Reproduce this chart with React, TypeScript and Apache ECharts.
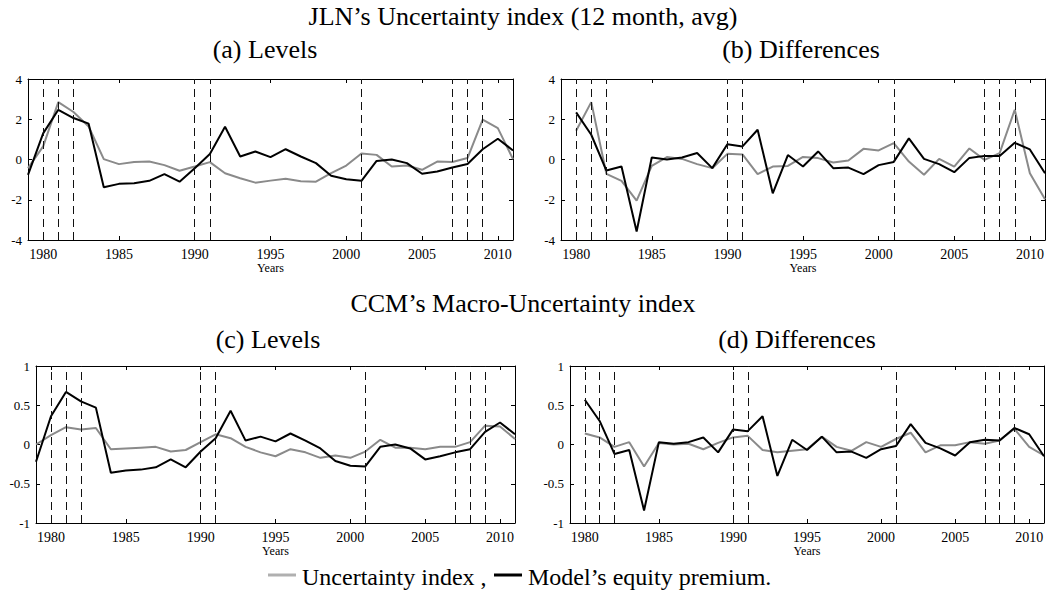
import React, { useEffect, useRef } from "react";
import * as echarts from "echarts";

const yearsLevels = [1979,1980,1981,1982,1983,1984,1985,1986,1987,1988,1989,1990,1991,1992,1993,1994,1995,1996,1997,1998,1999,2000,2001,2002,2003,2004,2005,2006,2007,2008,2009,2010,2011];
const yearsDiff = yearsLevels.slice(1);
const xTickYears = [1980, 1985, 1990, 1995, 2000, 2005, 2010];
const recessionYears = [1980, 1981, 1982, 1990, 1991, 2001, 2007, 2008, 2009];

// (a) JLN levels
const jlnLevelModel = [-0.76,1.3,2.47,2.06,1.78,-1.38,-1.21,-1.18,-1.06,-0.73,-1.1,-0.43,0.27,1.63,0.15,0.4,0.12,0.51,0.15,-0.18,-0.81,-0.98,-1.06,-0.07,0,-0.18,-0.71,-0.6,-0.4,-0.22,0.51,1.03,0.45];
const jlnLevelIndex = [-0.43,0.65,2.85,2.36,1.64,0.02,-0.23,-0.12,-0.1,-0.28,-0.56,-0.35,-0.13,-0.68,-0.93,-1.15,-1.05,-0.96,-1.08,-1.1,-0.68,-0.3,0.3,0.23,-0.35,-0.3,-0.51,-0.1,-0.12,0.07,1.98,1.56,0.02];
// (b) JLN differences
const jlnDiffModel = [2.34,1.23,-0.55,-0.35,-3.58,0.1,0,0.1,0.32,-0.43,0.76,0.65,1.48,-1.68,0.22,-0.35,0.4,-0.43,-0.4,-0.73,-0.28,-0.12,1.05,0.03,-0.23,-0.63,0.08,0.18,0.17,0.83,0.5,-0.68];
const jlnDiffIndex = [1.43,2.85,-0.71,-1.06,-2.04,-0.32,0.12,0.03,-0.23,-0.43,0.28,0.25,-0.73,-0.35,-0.32,0.13,0.07,-0.15,-0.05,0.53,0.45,0.81,-0.1,-0.76,0.03,-0.35,0.55,-0.02,0.32,2.47,-0.68,-1.98];
// (c) CCM levels
const ccmLevelModel = [-0.22,0.36,0.67,0.55,0.47,-0.36,-0.33,-0.32,-0.29,-0.19,-0.29,-0.09,0.08,0.43,0.05,0.1,0.04,0.14,0.05,-0.05,-0.21,-0.27,-0.28,-0.03,0,-0.05,-0.19,-0.15,-0.1,-0.06,0.16,0.28,0.13];
const ccmLevelIndex = [0,0.12,0.22,0.19,0.21,-0.06,-0.05,-0.04,-0.03,-0.09,-0.07,0.03,0.13,0.08,-0.03,-0.1,-0.15,-0.06,-0.1,-0.17,-0.14,-0.17,-0.09,0.06,-0.04,-0.04,-0.06,-0.03,-0.03,0.03,0.24,0.23,0.07];
// (d) CCM differences
const ccmDiffModel = [0.57,0.3,-0.12,-0.07,-0.84,0.03,0.01,0.03,0.09,-0.1,0.19,0.17,0.36,-0.4,0.06,-0.07,0.1,-0.1,-0.09,-0.17,-0.06,-0.02,0.26,0.02,-0.05,-0.14,0.03,0.06,0.05,0.21,0.13,-0.15];
const ccmDiffIndex = [0.14,0.09,-0.03,0.03,-0.28,0.02,0,0.01,-0.06,0.02,0.09,0.11,-0.07,-0.1,-0.08,-0.06,0.1,-0.03,-0.08,0.03,-0.03,0.07,0.15,-0.1,-0.01,-0.01,0.03,0.01,0.05,0.2,-0.03,-0.14];

const mainTitles = ["JLN’s Uncertainty index (12 month, avg)", "CCM’s Macro-Uncertainty index"];
const panelTitles = ["(a) Levels", "(b) Differences", "(c) Levels", "(d) Differences"];
const legendNames = ["Uncertainty index ,", "Model’s equity premium."];

const FONT = '"Liberation Serif", "DejaVu Serif", serif';
const GRAY = "#8a8a8a";

const zip = (xs: number[], ys: number[]) => xs.map((x, i) => [x, ys[i]]);

export default function App() {
  const ref = useRef<HTMLDivElement>(null);
  useEffect(() => {
    if (!ref.current) return;
    const chart = echarts.init(ref.current, null, { renderer: "svg" });

    const grids = [
      { left: 28, top: 79, width: 485, height: 161 },
      { left: 561, top: 79, width: 484, height: 161 },
      { left: 36, top: 366, width: 479, height: 157 },
      { left: 570, top: 366, width: 474, height: 157 },
    ];
    const yRanges = [
      { min: -4, max: 4, interval: 2 },
      { min: -4, max: 4, interval: 2 },
      { min: -1, max: 1, interval: 0.5 },
      { min: -1, max: 1, interval: 0.5 },
    ];
    const panels = [
      { x: yearsLevels, idx: jlnLevelIndex, mod: jlnLevelModel },
      { x: yearsDiff, idx: jlnDiffIndex, mod: jlnDiffModel },
      { x: yearsLevels, idx: ccmLevelIndex, mod: ccmLevelModel },
      { x: yearsDiff, idx: ccmDiffIndex, mod: ccmDiffModel },
    ];
    const axisLine = { show: true, onZero: false, lineStyle: { color: "#000", width: 1 } };
    const tick = { show: true, inside: true, length: 4, lineStyle: { color: "#000", width: 1 } };

    const xAxes: any[] = [];
    const yAxes: any[] = [];
    grids.forEach((_, i) => {
      xAxes.push({
        type: "value", gridIndex: i, min: 1979, max: 2011, position: "bottom",
        axisLine, splitLine: { show: false },
        axisTick: { ...tick, customValues: xTickYears },
        axisLabel: {
          customValues: xTickYears, color: "#000", fontFamily: FONT, fontSize: 14, margin: 7,
          formatter: (v: number) => String(v),
        },
        name: "Years", nameLocation: "middle", nameGap: 21,
        nameTextStyle: { color: "#000", fontFamily: FONT, fontSize: 12 },
      });
      yAxes.push({
        type: "value", gridIndex: i, ...yRanges[i], position: "left",
        axisLine, splitLine: { show: false }, axisTick: tick,
        axisLabel: { color: "#000", fontFamily: FONT, fontSize: 13, margin: 6, formatter: (v: number) => String(v) },
      });
    });
    grids.forEach((_, i) => {
      xAxes.push({
        type: "value", gridIndex: i, min: 1979, max: 2011, position: "top",
        axisLine, splitLine: { show: false },
        axisTick: { ...tick, customValues: xTickYears },
        axisLabel: { show: false },
      });
      yAxes.push({
        type: "value", gridIndex: i, ...yRanges[i], position: "right",
        axisLine, splitLine: { show: false }, axisTick: tick,
        axisLabel: { show: false },
      });
    });

    const series: any[] = [];
    panels.forEach((p, i) => {
      series.push({
        type: "line", name: "Uncertainty index", xAxisIndex: i, yAxisIndex: i,
        data: zip(p.x, p.idx), showSymbol: false, symbol: "none",
        lineStyle: { color: GRAY, width: 2 }, z: 3,
        markLine: {
          silent: true, symbol: ["none", "none"], label: { show: false },
          lineStyle: { type: [8, 5], color: "#111", width: 1 },
          data: recessionYears.map((y) => ({ xAxis: y })),
        },
      });
      series.push({
        type: "line", name: "Model's equity premium", xAxisIndex: i, yAxisIndex: i,
        data: zip(p.x, p.mod), showSymbol: false, symbol: "none",
        lineStyle: { color: "#000", width: 2 }, z: 4,
      });
    });

    const tStyle = (size: number) => ({ color: "#000", fontFamily: FONT, fontSize: size, fontWeight: "normal" as const });
    const titles = [
      { text: mainTitles[0], left: 523, top: 3, textAlign: "center", padding: 0, textStyle: tStyle(26) },
      { text: panelTitles[0], left: 265, top: 36, textAlign: "center", padding: 0, textStyle: tStyle(26) },
      { text: panelTitles[1], left: 801, top: 36, textAlign: "center", padding: 0, textStyle: tStyle(26) },
      { text: mainTitles[1], left: 523, top: 290, textAlign: "center", padding: 0, textStyle: tStyle(26) },
      { text: panelTitles[2], left: 268, top: 326, textAlign: "center", padding: 0, textStyle: tStyle(26) },
      { text: panelTitles[3], left: 797, top: 326, textAlign: "center", padding: 0, textStyle: tStyle(26) },
    ];

    const graphic = [
      { type: "line", shape: { x1: 268, y1: 575, x2: 296, y2: 575 }, style: { stroke: "#b0b0b0", lineWidth: 3 } },
      { type: "text", x: 302, y: 577, style: { text: legendNames[0], fontSize: 24, fontFamily: FONT, fill: "#000", verticalAlign: "middle" } },
      { type: "line", shape: { x1: 494, y1: 575, x2: 522, y2: 575 }, style: { stroke: "#000", lineWidth: 3 } },
      { type: "text", x: 528, y: 577, style: { text: legendNames[1], fontSize: 24, fontFamily: FONT, fill: "#000", verticalAlign: "middle" } },
    ];

    chart.setOption({
      animation: false,
      backgroundColor: "#fff",
      title: titles,
      grid: grids,
      xAxis: xAxes,
      yAxis: yAxes,
      series,
      graphic,
    });
    return () => chart.dispose();
  }, []);
  return <div ref={ref} style={{ position: "absolute", left: 0, top: 0, width: 1047, height: 592 }} />;
}
